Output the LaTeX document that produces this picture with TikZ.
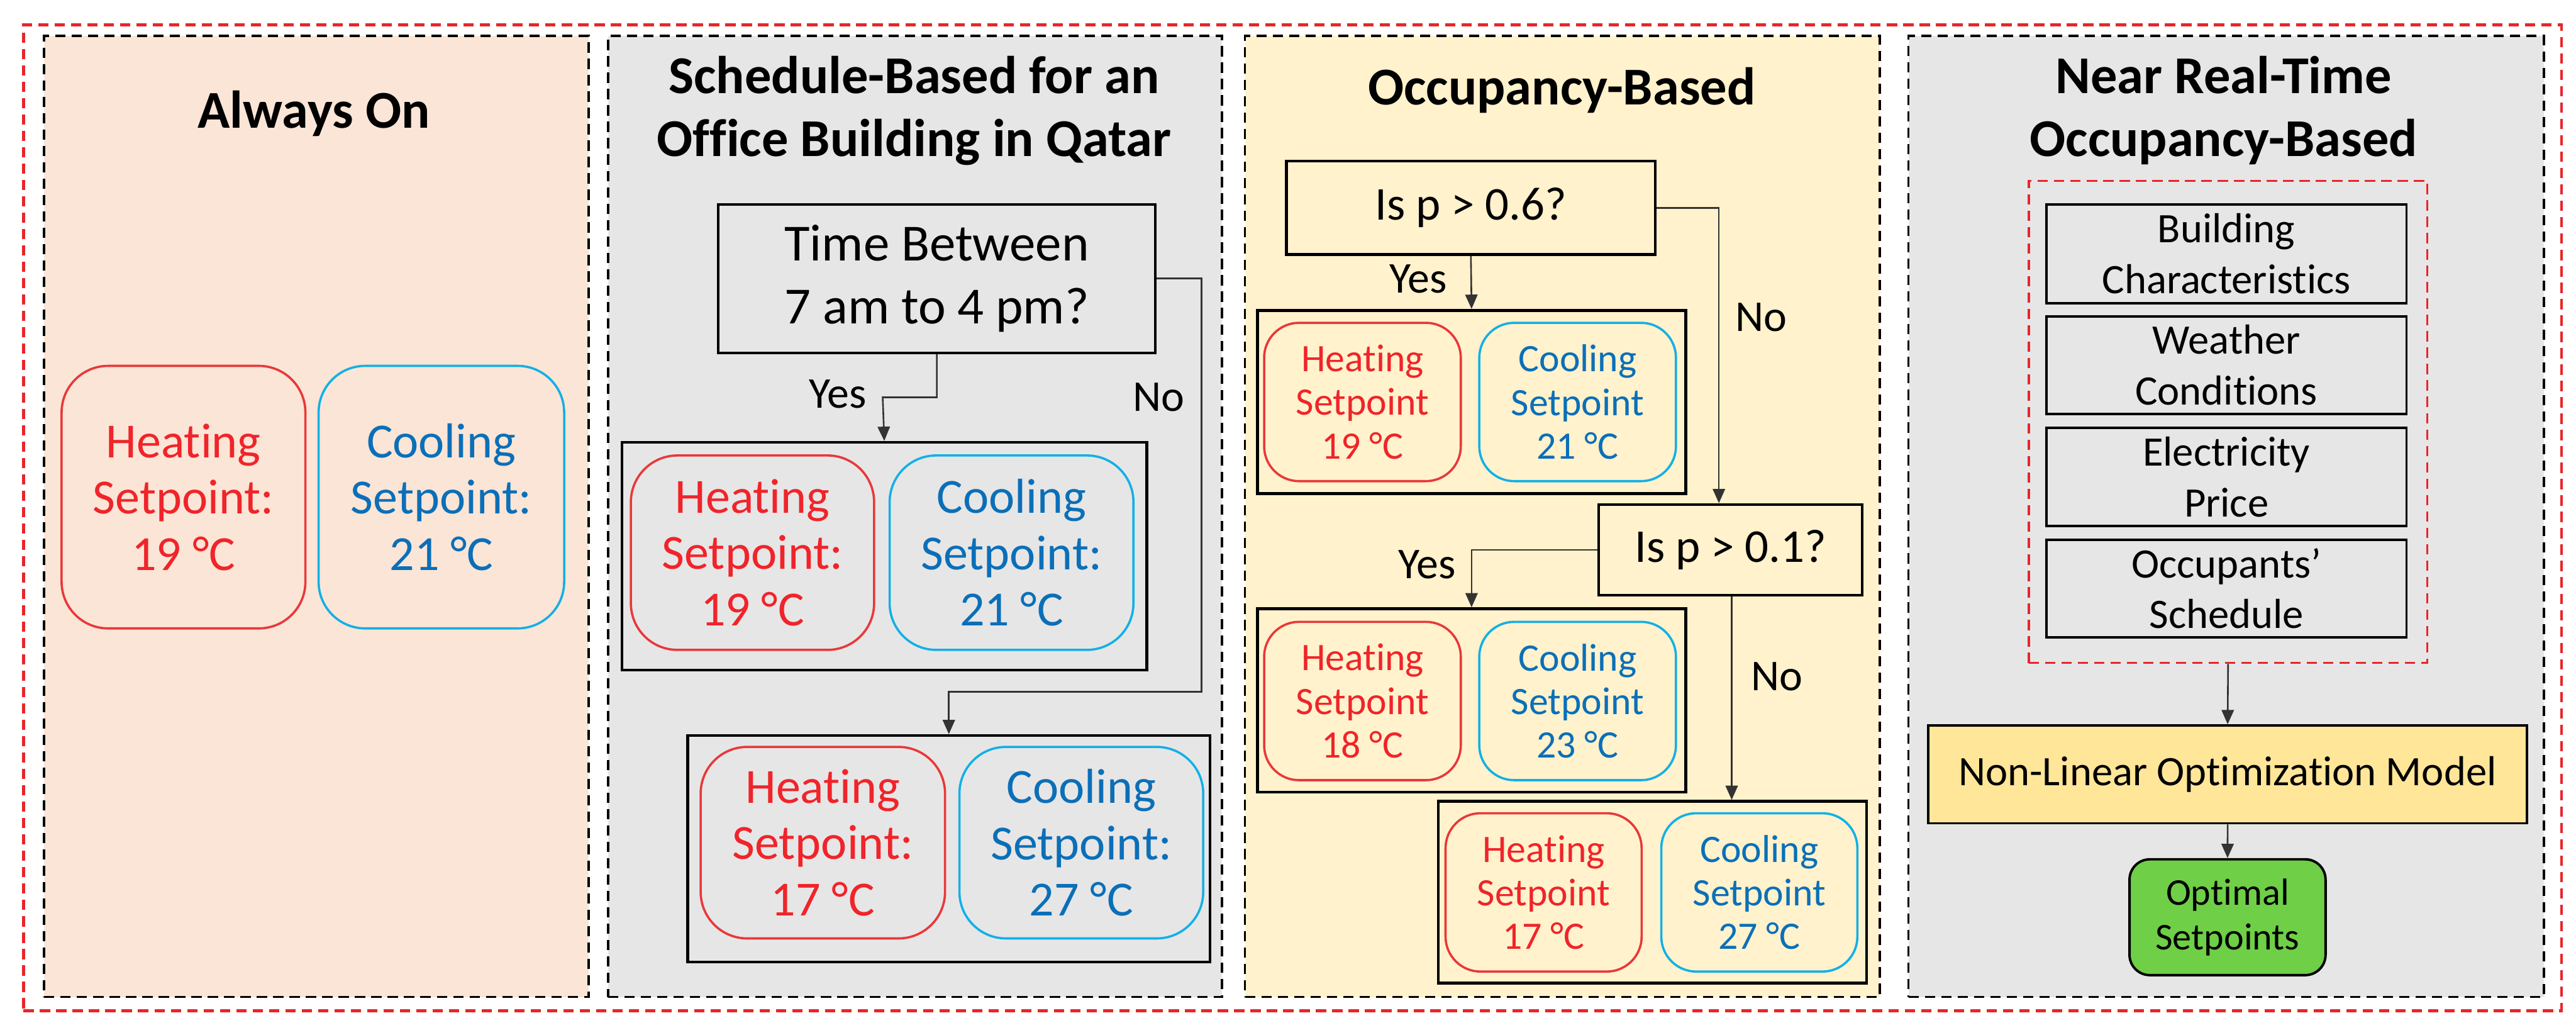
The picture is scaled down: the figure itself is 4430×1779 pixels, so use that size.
\documentclass[tikz,border=0pt]{standalone}
\usepackage{fontspec}
\setmainfont{Carlito}[Ligatures=NoCommon]
\usetikzlibrary{arrows.meta}
\definecolor{outerred}{HTML}{E8252A}
\definecolor{peach}{HTML}{FBE5D6}
\definecolor{greyp}{HTML}{E7E6E6}
\definecolor{yellowp}{HTML}{FFF2CC}
\definecolor{heatc}{HTML}{F0242A}
\definecolor{heatb}{HTML}{E8383A}
\definecolor{coolc}{HTML}{0B6FB8}
\definecolor{coolb}{HTML}{12B0E6}
\definecolor{nlfill}{HTML}{FFE699}
\definecolor{optfill}{HTML}{6FCF47}
\begin{document}
\begin{tikzpicture}[x=0.01cm,y=-0.01cm,
  panel/.style={draw=black, line width=1.1pt, dash pattern=on 5pt off 3pt, anchor=north west, inner sep=0pt},
  ttl/.style={font=\fontsize{26}{30.7}\selectfont\bfseries, align=center, inner sep=0pt},
  grp/.style={draw=black, line width=1.4pt, anchor=north west, inner sep=0pt},
  heat/.style={draw=heatb, text=heatc, line width=1.1pt, rounded corners=0.8cm, anchor=north west, align=center, inner sep=0pt, font=\fontsize{24}{27.5}\selectfont},
  cool/.style={heat, draw=coolb, text=coolc},
  sheat/.style={heat, rounded corners=0.6cm, font=\fontsize{19}{21.3}\selectfont},
  scool/.style={sheat, draw=coolb, text=coolc},
  qbox/.style={draw=black, line width=1.3pt, anchor=north west, align=center, inner sep=0pt},
  fbox/.style={draw=black, line width=1.2pt, anchor=north west, align=center, inner sep=0pt, font=\fontsize{20.5}{24.8}\selectfont},
  lbl/.style={font=\fontsize{21.5}{24}\selectfont, inner sep=0pt},
  arr/.style={draw=black!80, line width=0.8pt, -{Triangle[length=7pt,width=6pt]}}
]
\useasboundingbox (0,0) rectangle (4430,1779);
\fill[white] (0,0) rectangle (4430,1779);

% panels
\node[panel, fill=peach, minimum width=9.36cm, minimum height=16.51cm] (P1) at (74,60) {};
\node[panel, fill=greyp, minimum width=10.55cm, minimum height=16.51cm] (P2) at (1044,60) {};
\node[panel, fill=yellowp, minimum width=10.91cm, minimum height=16.51cm] (P3) at (2139,60) {};
\node[panel, fill=greyp, minimum width=10.92cm, minimum height=16.51cm] (P4) at (3280,60) {};
\node[draw=outerred, line width=1.4pt, dash pattern=on 5pt off 3pt, anchor=north west, inner sep=0pt, minimum width=43.62cm, minimum height=16.94cm] (OUT) at (38,40) {};

% Panel 1
\node[ttl] (T1) at (540,195) {Always On};
\node[heat, minimum width=4.19cm, minimum height=4.51cm] (H1) at (104,627) {Heating\\Setpoint:\\19 °C};
\node[cool, minimum width=4.22cm, minimum height=4.51cm] (C1) at (546,627) {Cooling\\Setpoint:\\21 °C};

% Panel 2
\node[ttl] (T2) at (1572,190) {Schedule-Based for an\\Office Building in Qatar};
\node[qbox, minimum width=7.51cm, minimum height=2.55cm, font=\fontsize{25.5}{30.7}\selectfont] (D1) at (1233,349) {Time Between\\7 am to 4 pm?};
\node[grp, minimum width=9.02cm, minimum height=3.91cm] (G1) at (1067,758) {};
\node[heat, minimum width=4.18cm, minimum height=3.34cm] (H2) at (1083,781) {Heating\\Setpoint:\\19 °C};
\node[cool, minimum width=4.19cm, minimum height=3.34cm] (C2) at (1528,781) {Cooling\\Setpoint:\\21 °C};
\node[grp, minimum width=8.98cm, minimum height=3.89cm] (G2) at (1180,1262) {};
\node[heat, minimum width=4.20cm, minimum height=3.29cm] (H3) at (1203,1282) {Heating\\Setpoint:\\17 °C};
\node[cool, minimum width=4.19cm, minimum height=3.29cm] (C3) at (1648,1282) {Cooling\\Setpoint:\\27 °C};
\coordinate (y1) at (1518,683);
\draw[arr] (D1.south) |- (y1) -- (G1.north);
\coordinate (n1) at (2066,1189);
\draw[arr] (D1.east) -| (n1) -| (G2.north);
\node[lbl] (L1) at (1441,677) {Yes};
\node[lbl] (L2) at (1993,683) {No};

% Panel 3
\node[ttl] (T3) at (2686,155) {Occupancy-Based};
\node[qbox, minimum width=6.34cm, minimum height=1.60cm, font=\fontsize{23}{26}\selectfont] (Q1) at (2210,275) {Is p > 0.6?};
\node[grp, minimum width=7.36cm, minimum height=3.15cm] (G31) at (2160,531) {};
\node[sheat, minimum width=3.38cm, minimum height=2.72cm] (H31) at (2172,553) {Heating\\Setpoint\\19 °C};
\node[scool, minimum width=3.38cm, minimum height=2.72cm] (C31) at (2542,553) {Cooling\\Setpoint\\21 °C};
\node[qbox, minimum width=4.53cm, minimum height=1.56cm, font=\fontsize{23}{26}\selectfont] (Q2) at (2747,865) {Is p > 0.1?};
\node[grp, minimum width=7.36cm, minimum height=3.15cm] (G32) at (2160,1044) {};
\node[sheat, minimum width=3.38cm, minimum height=2.72cm] (H32) at (2172,1067) {Heating\\Setpoint\\18 °C};
\node[scool, minimum width=3.38cm, minimum height=2.72cm] (C32) at (2542,1067) {Cooling\\Setpoint\\23 °C};
\node[grp, minimum width=7.36cm, minimum height=3.12cm] (G33) at (2471,1375) {};
\node[sheat, minimum width=3.37cm, minimum height=2.72cm] (H33) at (2484,1396) {Heating\\Setpoint\\17 °C};
\node[scool, minimum width=3.37cm, minimum height=2.72cm] (C33) at (2855,1396) {Cooling\\Setpoint\\27 °C};
\draw[arr] (Q1.south) -- (G31.north);
\coordinate (n2) at (2956,865);
\draw[arr] (Q1.east) -| (n2);
\draw[arr] (Q2.west) -| (G32.north);
\coordinate (n3) at (2978,1375);
\draw[arr] (Q2.south -| n3) -- (n3);
\node[lbl] (L3) at (2439,479) {Yes};
\node[lbl] (L4) at (3029,545) {No};
\node[lbl] (L5) at (2454,970) {Yes};
\node[lbl] (L6) at (3056,1163) {No};

% Panel 4
\node[ttl] (T4) at (3824,190) {Near Real-Time\\Occupancy-Based};
\node[draw=outerred, line width=1.1pt, dash pattern=on 5pt off 3pt, anchor=north west, inner sep=0pt, minimum width=6.85cm, minimum height=8.28cm] (R) at (3487,309) {};
\node[fbox, minimum width=6.19cm, minimum height=1.70cm] (B1) at (3517,349) {Building\\Characteristics};
\node[fbox, minimum width=6.19cm, minimum height=1.67cm] (B2) at (3517,542) {Weather\\Conditions};
\node[fbox, minimum width=6.19cm, minimum height=1.69cm] (B3) at (3517,733) {Electricity\\Price};
\node[fbox, minimum width=6.19cm, minimum height=1.67cm] (B4) at (3517,926) {Occupants’\\Schedule};
\node[fbox, fill=nlfill, minimum width=10.29cm, minimum height=1.68cm] (NL) at (3314,1245) {Non-Linear Optimization Model};
\node[fbox, fill=optfill, rounded corners=0.35cm, minimum width=3.37cm, minimum height=1.99cm, font=\fontsize{18.5}{21.8}\selectfont] (OP) at (3660,1475) {Optimal\\Setpoints};
\draw[arr] (R.south) -- (NL.north);
\draw[arr] (NL.south) -- (OP.north);
\end{tikzpicture}
\end{document}
